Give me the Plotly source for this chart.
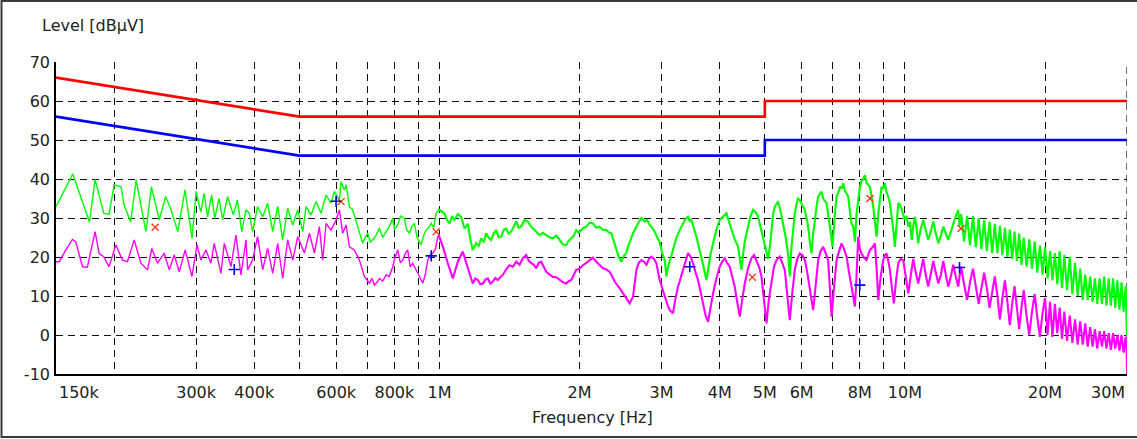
import numpy as np
import plotly.graph_objects as go

# ---------------- data ----------------
# limit lines (MHz, dBuV)
limit_freq_mhz = [0.15, 0.5, 5.0, 5.0, 30.0]
qp_limit_db = [66, 56, 56, 60, 60]
av_limit_db = [56, 46, 46, 50, 50]

# measured peak trace (green): (MHz, dBuV)
green_trace = [
    (0.150, 32.9), (0.163, 41.3), (0.177, 29.0), (0.182, 39.9), (0.190, 31.2), (0.195, 31.0),
    (0.200, 38.5), (0.207, 38.0), (0.210, 33.3), (0.217, 29.0), (0.223, 39.7), (0.234, 26.5),
    (0.2405, 38.0), (0.250, 29.5), (0.258, 35.5), (0.265, 32.1), (0.274, 26.5), (0.284, 37.2),
    (0.294, 24.8), (0.300, 36.8), (0.307, 31.5), (0.312, 36.3), (0.3175, 30.3), (0.324, 35.9),
    (0.329, 29.9), (0.336, 35.0), (0.342, 29.5), (0.3505, 35.5), (0.3606, 30.8), (0.368, 34.6),
    (0.376, 26.5), (0.384, 32.1), (0.3903, 31.2), (0.3967, 26.5), (0.4067, 32.9), (0.417, 30.3),
    (0.4274, 33.8), (0.4382, 26.5), (0.4492, 32.9), (0.4604, 24.4), (0.4719, 32.5), (0.4839, 28.2),
    (0.496, 32.1), (0.5084, 26.5), (0.5168, 32.9), (0.5297, 30.8), (0.5431, 34.2), (0.5566, 31.2),
    (0.5706, 35.9), (0.5848, 33.8), (0.5945, 36.8), (0.6094, 34.6), (0.6146, 39.3), (0.6247, 37.2),
    (0.63, 38.5), (0.6404, 32.9), (0.6509, 32.1), (0.6672, 27.8), (0.684, 23.5), (0.692, 25.0),
    (0.7012, 26.1), (0.71, 23.8), (0.7189, 24.4), (0.73, 25.5), (0.743, 27.4), (0.755, 25.0),
    (0.7679, 26.5), (0.78, 27.8), (0.7936, 29.9), (0.80, 27.0), (0.8135, 28.2), (0.825, 30.5),
    (0.8409, 29.9), (0.85, 27.0), (0.8621, 26.1), (0.873, 28.0), (0.8835, 28.6), (0.895, 25.0),
    (0.9133, 23.1), (0.925, 25.5), (0.936, 26.9), (0.948, 27.5), (0.9596, 28.6), (0.972, 27.5),
    (0.9836, 31.2), (0.9966, 32.2), (1.025, 31.2), (1.038, 29.5), (1.051, 28.6), (1.064, 30.5),
    (1.077, 29.5), (1.095, 31.0), (1.113, 30.3), (1.132, 27.3), (1.151, 28.5), (1.165, 24.5),
    (1.179, 21.8), (1.199, 23.5), (1.214, 22.8), (1.229, 24.8), (1.245, 23.8), (1.26, 26.1),
    (1.275, 25.0), (1.291, 24.4), (1.307, 26.0), (1.324, 26.9), (1.34, 25.0), (1.357, 25.2),
    (1.374, 27.0), (1.391, 27.3), (1.408, 26.0), (1.426, 26.5), (1.444, 28.0), (1.462, 29.1),
    (1.48, 27.5), (1.498, 27.8), (1.523, 29.5), (1.549, 29.1), (1.568, 28.0), (1.588, 27.3),
    (1.614, 26.5), (1.641, 25.6), (1.668, 26.2), (1.696, 25.6), (1.725, 25.0), (1.753, 24.8),
    (1.782, 25.5), (1.812, 24.4), (1.842, 23.2), (1.873, 23.1), (1.896, 24.2), (1.92, 24.8),
    (1.944, 25.5), (1.967, 26.9), (1.992, 26.2), (2.017, 26.9), (2.042, 27.5), (2.068, 27.8),
    (2.102, 28.8), (2.137, 28.6), (2.172, 27.5), (2.208, 27.8), (2.245, 27.0), (2.282, 26.9),
    (2.31, 26.3), (2.339, 26.1), (2.368, 24.0), (2.398, 21.8), (2.428, 20.0), (2.459, 18.8),
    (2.49, 20.3), (2.52, 21.0), (2.541, 22.6), (2.605, 26.1), (2.64, 27.5), (2.67, 28.6),
    (2.715, 30.0), (2.76, 29.1), (2.795, 29.5), (2.829, 28.2), (2.865, 27.5), (2.90, 26.5),
    (2.936, 25.0), (2.972, 23.9), (3.01, 21.0), (3.047, 19.2), (3.072, 15.0), (3.097, 17.5),
    (3.135, 19.5), (3.175, 21.8), (3.23, 25.0), (3.281, 26.9), (3.336, 28.5), (3.38, 29.8),
    (3.42, 30.3), (3.449, 29.2), (3.477, 29.5), (3.52, 27.5), (3.565, 25.2), (3.61, 22.5),
    (3.654, 20.1), (3.70, 17.0), (3.746, 14.1), (3.776, 17.0), (3.82, 20.5), (3.871, 23.5),
    (3.935, 27.0), (4.0, 29.5), (4.07, 30.5), (4.135, 31.2), (4.19, 29.0), (4.239, 26.9),
    (4.309, 24.5), (4.382, 22.6), (4.418, 19.5), (4.454, 16.7), (4.50, 21.5), (4.528, 24.0),
    (4.604, 27.8), (4.66, 30.5), (4.719, 32.1), (4.78, 31.5), (4.837, 30.3), (4.90, 27.5),
    (4.958, 25.2), (5.02, 22.0), (5.082, 19.5), (5.125, 22.5), (5.167, 27.5), (5.21, 31.0),
    (5.253, 32.9), (5.297, 33.5), (5.341, 34.2), (5.41, 31.5), (5.475, 28.5), (5.545, 25.0),
    (5.612, 20.5), (5.658, 15.0), (5.70, 22.0), (5.75, 27.5), (5.80, 31.2), (5.85, 33.5),
    (5.896, 35.0), (5.945, 34.6), (6.02, 33.5), (6.095, 32.1), (6.146, 30.0), (6.196, 27.8),
    (6.247, 24.0), (6.30, 20.9), (6.352, 26.0), (6.405, 30.3), (6.46, 33.0), (6.511, 35.5),
    (6.56, 36.0), (6.617, 36.8), (6.673, 35.0), (6.73, 34.5), (6.785, 33.8), (6.84, 31.0),
    (6.897, 27.8), (6.955, 24.5), (6.989, 22.6), (7.06, 30.0), (7.131, 35.5), (7.19, 36.5),
    (7.25, 38.0), (7.31, 37.5), (7.37, 38.9), (7.43, 37.0), (7.493, 36.0), (7.554, 35.5),
    (7.62, 31.5), (7.681, 28.5), (7.744, 27.8), (7.809, 23.9), (7.87, 31.0), (7.938, 35.5),
    (8.003, 38.0), (8.07, 39.5), (8.137, 40.0), (8.204, 41.0), (8.272, 39.0), (8.34, 38.5),
    (8.41, 38.0), (8.48, 35.5), (8.55, 32.9), (8.621, 29.0), (8.693, 25.2), (8.765, 31.0),
    (8.837, 35.5), (8.909, 38.0), (8.983, 37.5), (9.058, 38.9), (9.134, 36.5), (9.21, 35.5),
    (9.284, 33.8), (9.36, 31.0), (9.44, 27.0), (9.517, 22.6), (9.597, 29.0), (9.676, 33.8),
    (9.756, 33.5), (9.836, 32.1), (9.918, 30.5), (10.0, 29.5), (10.08, 30.5), (10.17, 27.8),
    (10.25, 29.0), (10.34, 24.4), (10.42, 28.0), (10.51, 30.3), (10.6, 27.0), (10.68, 23.5),
    (10.8, 27.0), (10.95, 29.5), (11.08, 27.0), (11.22, 24.4), (11.36, 26.5), (11.51, 29.1),
    (11.65, 26.0), (11.80, 23.5), (11.95, 25.5), (12.09, 27.8), (12.24, 26.0), (12.39, 24.4),
    (12.55, 26.5), (12.70, 28.6), (12.86, 30.5), (13.02, 32.1), (13.1, 28.0),
    (13.2, 31.0), (13.4, 24.0), (13.6, 30.5), (13.8, 23.0), (14.0, 30.5), (14.2, 22.5),
    (14.4, 30.0), (14.6, 22.0), (14.8, 29.5), (15.0, 21.5), (15.2, 29.0), (15.4, 21.0),
    (15.6, 28.5), (15.8, 21.0), (16.0, 28.0), (16.2, 20.5), (16.4, 27.5), (16.6, 20.0),
    (16.8, 27.0), (17.0, 19.5), (17.2, 26.5), (17.4, 19.0), (17.6, 26.0), (17.8, 18.0),
    (18.0, 25.0), (18.25, 17.5), (18.5, 24.5), (18.75, 17.0), (19.0, 24.0), (19.25, 16.0),
    (19.5, 23.0), (19.75, 15.5), (20.0, 22.5), (20.25, 14.5), (20.5, 21.5), (20.75, 14.0),
    (21.0, 21.0), (21.25, 13.0), (21.5, 21.5), (21.75, 12.0), (22.0, 20.5), (22.3, 11.5),
    (22.6, 20.0), (22.9, 10.5), (23.2, 18.5), (23.5, 10.0), (23.8, 17.0), (24.1, 9.0),
    (24.4, 15.5), (24.7, 9.0), (25.0, 15.0), (25.3, 8.5), (25.6, 14.5), (25.9, 8.0),
    (26.2, 14.5), (26.5, 8.0), (26.8, 15.0), (27.1, 7.5), (27.4, 14.5), (27.7, 7.5),
    (28.0, 14.5), (28.3, 7.0), (28.6, 14.0), (28.9, 6.5), (29.2, 13.5), (29.5, 6.0),
    (29.8, 12.5), (29.95, 5.0), (30.0, -0.5),
]

# measured average trace (magenta): (MHz, dBuV)
magenta_trace = [
    (0.150, 18.8), (0.1524, 18.8), (0.1575, 21.8), (0.1627, 24.5), (0.1654, 23.9), (0.171, 17.5),
    (0.1752, 17.4), (0.182, 26.5), (0.1857, 20.9), (0.190, 20.1), (0.195, 17.5), (0.2017, 23.1),
    (0.2084, 19.2), (0.2136, 18.8), (0.2208, 24.4), (0.2283, 18.4), (0.2359, 16.7), (0.2410, 22.2),
    (0.2479, 18.4), (0.2562, 21.0), (0.2627, 16.7), (0.2692, 20.5), (0.276, 16.2), (0.2842, 21.8),
    (0.2939, 15.0), (0.3013, 23.1), (0.3072, 19.2), (0.3149, 21.8), (0.3228, 18.4), (0.3281, 23.5),
    (0.3392, 15.8), (0.3449, 23.5), (0.3565, 17.5), (0.3653, 25.6), (0.3745, 15.4), (0.384, 24.4),
    (0.3871, 16.7), (0.3967, 19.2), (0.4067, 25.2), (0.417, 16.7), (0.4274, 22.2), (0.4382, 15.8),
    (0.4492, 23.5), (0.4604, 14.5), (0.4719, 24.4), (0.4839, 19.2), (0.496, 25.2), (0.5126, 21.0),
    (0.5254, 26.1), (0.5386, 21.0), (0.552, 27.8), (0.5612, 19.2), (0.5706, 28.6), (0.5848, 26.9),
    (0.5995, 29.5), (0.6094, 32.1), (0.6196, 26.1), (0.63, 28.2), (0.6404, 22.6), (0.6563, 21.8),
    (0.6729, 19.2), (0.6897, 15.0), (0.7071, 13.3), (0.716, 14.5), (0.7248, 12.8), (0.734, 13.5),
    (0.743, 14.5), (0.755, 13.8), (0.7679, 15.4), (0.78, 15.0), (0.7936, 17.5), (0.803, 20.0),
    (0.8135, 21.8), (0.824, 18.5), (0.8339, 19.2), (0.845, 21.0), (0.8547, 21.8), (0.865, 17.5),
    (0.8762, 18.4), (0.887, 17.0), (0.8981, 15.8), (0.91, 14.5), (0.921, 13.3), (0.932, 15.5),
    (0.9438, 19.2), (0.956, 20.5), (0.9676, 21.0), (0.98, 22.0), (0.9917, 25.2), (0.9966, 25.6),
    (1.017, 22.6), (1.042, 18.4), (1.068, 14.5), (1.095, 18.8), (1.122, 21.4), (1.151, 17.1),
    (1.179, 13.2), (1.194, 14.5), (1.209, 14.1), (1.224, 13.0), (1.24, 13.2), (1.255, 14.2),
    (1.27, 14.5), (1.286, 13.2), (1.302, 13.7), (1.318, 14.6), (1.335, 14.1), (1.351, 14.8),
    (1.368, 15.4), (1.39, 16.8), (1.414, 17.9), (1.438, 17.5), (1.462, 18.8), (1.486, 18.0),
    (1.511, 19.7), (1.536, 20.5), (1.555, 19.0), (1.575, 18.4), (1.595, 18.0), (1.614, 17.1),
    (1.634, 18.5), (1.654, 18.8), (1.675, 17.5), (1.696, 16.2), (1.725, 15.5), (1.753, 14.9),
    (1.782, 14.8), (1.812, 14.1), (1.842, 13.5), (1.873, 13.2), (1.896, 13.8), (1.92, 14.1),
    (1.944, 15.5), (1.967, 16.7), (2.0, 17.0), (2.033, 17.9), (2.068, 18.5), (2.102, 19.2),
    (2.137, 19.8), (2.172, 18.8), (2.208, 18.0), (2.245, 17.1), (2.282, 16.8), (2.32, 16.2),
    (2.35, 15.0), (2.378, 13.7), (2.438, 12.0), (2.468, 11.0), (2.499, 10.3), (2.53, 9.0),
    (2.562, 8.1), (2.605, 9.8), (2.649, 16.7), (2.68, 18.5), (2.715, 19.2), (2.75, 18.8),
    (2.783, 18.0), (2.82, 19.5), (2.853, 20.1), (2.89, 19.5), (2.924, 18.4), (2.972, 14.1),
    (3.01, 12.0), (3.047, 9.8), (3.085, 8.0), (3.123, 6.4), (3.175, 5.6), (3.21, 9.0),
    (3.254, 12.4), (3.295, 14.5), (3.336, 16.7), (3.38, 19.0), (3.42, 21.0), (3.465, 20.0),
    (3.506, 18.4), (3.55, 16.0), (3.594, 14.1), (3.64, 11.0), (3.684, 8.1), (3.73, 5.0),
    (3.776, 3.4), (3.82, 7.0), (3.871, 10.7), (3.935, 14.5), (4.0, 17.5), (4.05, 18.8),
    (4.102, 19.7), (4.15, 18.5), (4.204, 17.5), (4.255, 15.0), (4.309, 12.4), (4.36, 8.5),
    (4.418, 4.7), (4.47, 9.0), (4.528, 13.2), (4.60, 17.0), (4.68, 19.7), (4.74, 20.5),
    (4.797, 19.2), (4.86, 17.5), (4.917, 15.0), (4.98, 9.0), (5.041, 3.0), (5.10, 9.0),
    (5.167, 14.1), (5.23, 17.5), (5.297, 19.2), (5.385, 20.1), (5.45, 18.5), (5.52, 16.7),
    (5.59, 10.0), (5.658, 3.8), (5.73, 11.0), (5.80, 16.7), (5.87, 19.5), (5.945, 20.9),
    (6.02, 20.5), (6.095, 19.2), (6.17, 16.0), (6.247, 12.4), (6.30, 9.0), (6.352, 6.4),
    (6.43, 13.0), (6.511, 19.2), (6.59, 21.5), (6.673, 22.6), (6.757, 21.0), (6.84, 19.2),
    (6.90, 12.0), (6.955, 4.7), (7.04, 12.0), (7.131, 19.2), (7.22, 21.5), (7.31, 23.5),
    (7.40, 22.0), (7.493, 20.1), (7.586, 16.0), (7.681, 12.4), (7.744, 9.5), (7.809, 7.3),
    (7.87, 15.0), (7.938, 25.2), (8.003, 22.0), (8.07, 20.9), (8.17, 19.8), (8.272, 19.2),
    (8.34, 20.5), (8.41, 21.8), (8.52, 22.5), (8.621, 23.5), (8.693, 17.0), (8.765, 9.0),
    (8.87, 15.0), (8.983, 19.2), (9.058, 20.5), (9.134, 20.9), (9.21, 19.0), (9.284, 16.7),
    (9.376, 12.0), (9.47, 8.1), (9.57, 14.0), (9.676, 18.4), (9.797, 19.5), (9.918, 19.2),
    (10.04, 15.0), (10.17, 10.7), (10.3, 15.5), (10.42, 19.5), (10.55, 16.0), (10.68, 13.2),
    (10.82, 16.5), (10.95, 19.5), (11.08, 15.5), (11.22, 12.4), (11.36, 15.5), (11.51, 19.0),
    (11.65, 16.0), (11.80, 13.2), (11.95, 15.5), (12.09, 19.0), (12.24, 15.5), (12.39, 12.4),
    (12.55, 15.0), (12.70, 18.0), (12.86, 15.0), (13.02, 12.4), (13.1, 15.0),
    (13.2, 17.5), (13.4, 13.0), (13.6, 9.0), (13.8, 13.5), (14.0, 17.0), (14.2, 12.5),
    (14.4, 8.0), (14.6, 12.0), (14.8, 16.0), (15.0, 12.0), (15.2, 7.0), (15.4, 11.0),
    (15.6, 15.0), (15.8, 10.0), (16.0, 4.0), (16.2, 9.5), (16.4, 14.0), (16.6, 8.5),
    (16.8, 2.5), (17.0, 8.0), (17.2, 12.5), (17.4, 7.0), (17.6, 1.5), (17.8, 7.0),
    (18.0, 11.5), (18.25, 5.0), (18.5, 0.0), (18.75, 6.0), (19.0, 10.5), (19.25, 4.5),
    (19.5, -0.5), (19.75, 5.5), (20.0, 9.5), (20.25, 0.0), (20.5, 8.5), (20.75, -0.5),
    (21.0, 8.0), (21.25, 0.5), (21.5, 7.0), (21.75, -1.0), (22.0, 6.0), (22.3, -1.5),
    (22.6, 5.0), (22.9, -2.0), (23.2, 4.0), (23.5, -2.5), (23.8, 3.5), (24.1, -2.5),
    (24.4, 3.0), (24.7, -3.0), (25.0, 2.0), (25.3, -3.0), (25.6, 1.5), (25.9, -3.5),
    (26.2, 1.0), (26.5, -3.0), (26.8, 1.0), (27.1, -3.5), (27.4, 0.5), (27.7, -3.8),
    (28.0, 0.5), (28.3, -3.5), (28.6, 0.0), (28.9, -4.0), (29.2, 0.0), (29.5, -4.5),
    (29.8, -0.5), (29.95, -4.0), (30.0, -9.5),
]

# final measurement points
qp_marker_freq_mhz = [0.245, 0.6146, 0.984, 4.70, 8.41, 13.2]
qp_marker_db = [27.6, 34.2, 26.5, 14.8, 35.0, 27.3]
av_marker_freq_mhz = [0.3623, 0.5995, 0.96, 3.449, 8.0, 13.1]
av_marker_db = [16.8, 34.3, 20.3, 17.5, 12.8, 17.3]

# axis ticks
x_grid_mhz = [0.2, 0.3, 0.4, 0.5, 0.6, 0.7, 0.8, 0.9, 1, 2, 3, 4, 5, 6, 7, 8, 9, 10, 20, 30]
x_grid_text = ["", "300k", "400k", "", "600k", "", "800k", "", "1M", "2M", "3M", "4M",
               "5M", "6M", "", "8M", "", "10M", "20M", ""]
y_ticks = [-10, 0, 10, 20, 30, 40, 50, 60, 70]
y_tick_text = ["-10", "0", "10", "20", "30", "40", "50", "60", "70"]

# ---------------- figure ----------------
W, H = 1137, 439
ML, MR, MT, MB = 56, 10, 62, 65
PW, PH = W - ML - MR, H - MT - MB
FONT = "DejaVu Sans"
TXT = "#222222"
MHZ = 1e6

def px_x(p):
    return (p - ML) / PW

def px_y(p):
    return (H - MB - p) / PH

def split_trace(points, lo_max, hi_min):
    lo = [(f, v) for f, v in points if f <= lo_max]
    hi = [(f, v) for f, v in points if f >= hi_min]
    return lo, hi

fig = go.Figure()

# the dense (noisy) part above ~1 MHz is drawn with a heavier stroke, like the receiver plot
for pts, col in ((green_trace, "#00ff00"), (magenta_trace, "#ff00ff")):
    lo, hi = split_trace(pts, 1.03, 0.9966)
    fig.add_trace(go.Scatter(x=[f * MHZ for f, _ in lo], y=[v for _, v in lo], mode="lines",
                             line=dict(color=col, width=1.4), hoverinfo="skip"))
    fig.add_trace(go.Scatter(x=[f * MHZ for f, _ in hi], y=[v for _, v in hi], mode="lines",
                             line=dict(color=col, width=2.1), hoverinfo="skip"))

fig.add_trace(go.Scatter(x=[f * MHZ for f in limit_freq_mhz], y=qp_limit_db, mode="lines",
                         line=dict(color="#ff0000", width=2.6), name="QP limit"))
fig.add_trace(go.Scatter(x=[f * MHZ for f in limit_freq_mhz], y=av_limit_db, mode="lines",
                         line=dict(color="#0000ff", width=2.6), name="AV limit"))
fig.add_trace(go.Scatter(x=[f * MHZ for f in qp_marker_freq_mhz], y=qp_marker_db, mode="markers",
                         marker=dict(symbol="x-thin", size=7, line=dict(color="#ff3a1a", width=1.4)),
                         name="QP"))
fig.add_trace(go.Scatter(x=[f * MHZ for f in av_marker_freq_mhz], y=av_marker_db, mode="markers",
                         marker=dict(symbol="cross-thin", size=8, line=dict(color="#0000ff", width=1.6)),
                         name="AV"))

GRID_COLOR = "#111111"
GRID_DASH = "7px,5px"
grid_common = dict(showgrid=True, gridcolor=GRID_COLOR, gridwidth=1.2, griddash=GRID_DASH)

fig.update_xaxes(
    type="log",
    range=[np.log10(0.15 * MHZ), np.log10(30 * MHZ)],
    tickvals=[f * MHZ for f in x_grid_mhz], ticktext=x_grid_text,
    ticks="", showline=True, linecolor="#000000", linewidth=1.6, mirror=False,
    zeroline=False, ticklabelstandoff=3,
    tickfont=dict(family=FONT, size=16, color=TXT),
    **grid_common,
)
fig.update_yaxes(
    range=[-10, 70], tickvals=y_ticks, ticktext=y_tick_text,
    ticks="", showline=True, linecolor="#000000", linewidth=1.6, mirror=False,
    zeroline=False, ticklabelstandoff=1,
    tickfont=dict(family=FONT, size=16, color=TXT),
    **grid_common,
)

annotations = [
    dict(text="Level [dBµV]", x=px_x(40), y=px_y(26), xanchor="left", yanchor="middle"),
    dict(text="Frequency [Hz]", x=px_x(592), y=px_y(417), xanchor="center", yanchor="middle"),
    dict(text="150k", x=px_x(57), y=px_y(392), xanchor="left", yanchor="middle"),
    dict(text="30M", x=px_x(1127), y=px_y(392), xanchor="right", yanchor="middle"),
]
for a in annotations:
    a.update(xref="paper", yref="paper", showarrow=False,
             font=dict(family=FONT, size=16, color=TXT))

shapes = [
    # outer frame of the picture
    dict(type="rect", xref="paper", yref="paper",
         x0=px_x(1.5), x1=px_x(1145), y0=px_y(437), y1=px_y(1),
         line=dict(color="#3a3a3a", width=2), fillcolor="rgba(0,0,0,0)", layer="above"),
    # last vertical grid line at the right end of the axis (30 MHz)
    dict(type="line", xref="x", yref="paper",
         x0=x_grid_mhz[-1] * MHZ, x1=x_grid_mhz[-1] * MHZ, y0=0, y1=1,
         line=dict(color=GRID_COLOR, width=1.2, dash=GRID_DASH), layer="below"),
]

fig.update_layout(
    width=W, height=H,
    margin=dict(l=ML, r=MR, t=MT, b=MB, pad=0),
    paper_bgcolor="#ffffff", plot_bgcolor="#ffffff",
    showlegend=False,
    annotations=annotations,
    shapes=shapes,
)

fig.write_html("out.html", config={"displayModeBar": False},
               post_script="document.body.style.margin='0px';document.body.style.overflow='hidden';")
